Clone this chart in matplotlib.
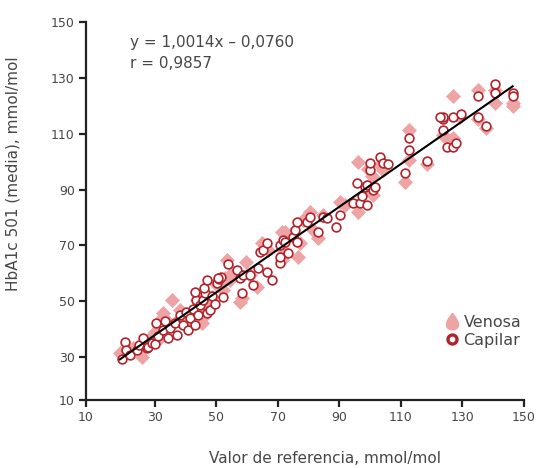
import matplotlib.pyplot as plt
import numpy as np
from matplotlib.lines import Line2D

# values (axis units as labelled)
cap_x = [19.3, 20.2, 20.6, 21.9, 24.1, 24.8, 26.1, 27.4, 27.7, 29.0, 30.0, 30.3,
         31.0, 32.6, 33.3, 34.2, 34.9, 36.5, 37.2, 38.1, 39.1, 40.1, 40.7, 41.4,
         42.4, 43.0, 43.3, 44.0, 44.6, 45.6, 46.3, 46.9, 47.9, 48.5, 49.5, 43.0,
         45.9, 46.8, 50.1, 50.8, 51.4, 52.2, 53.8, 56.6, 57.6, 58.2, 58.6, 60.9,
         61.9, 63.5, 64.1, 65.1, 66.4, 66.4, 68.0, 70.7, 70.7, 70.7, 71.6, 73.3,
         72.3, 74.9, 75.5, 76.2, 76.1, 79.3, 80.4, 83.0, 84.6, 85.8, 88.9, 90.2,
         94.4, 96.7, 98.8, 95.8, 98.3, 97.2, 98.8, 100.9, 101.6, 99.9, 99.9, 103.2,
         104.1, 105.8, 111.3, 112.6, 112.6, 118.4, 123.7, 125.0, 126.8, 127.9, 123.7,
         123.7, 126.8, 129.4, 135.1, 135.1, 137.8, 140.6, 140.6, 146.3, 146.3, 122.7,
         50.5]
cap_y = [29.3, 35.4, 32.5, 30.7, 32.5, 34.3, 36.8, 33.2, 33.6, 35.0, 34.7, 42.2,
         37.5, 39.7, 42.9, 36.8, 40.4, 42.2, 37.9, 45.0, 41.5, 46.1, 39.7, 44.0,
         47.2, 41.5, 50.4, 45.0, 48.6, 50.4, 52.9, 45.7, 46.8, 51.8, 49.0, 53.4,
         54.7, 57.6, 56.4, 57.9, 58.7, 51.5, 63.3, 61.1, 58.3, 52.9, 59.3, 59.3,
         55.8, 61.9, 67.6, 68.3, 70.8, 60.4, 57.6, 63.6, 65.9, 70.1, 71.9, 67.2,
         71.3, 73.1, 75.5, 78.4, 71.3, 78.4, 80.2, 74.8, 80.2, 79.7, 76.6, 80.8,
         85.2, 85.1, 84.4, 92.4, 91.0, 87.6, 91.6, 89.8, 91.0, 96.9, 99.5, 101.5,
         99.4, 99.1, 96.0, 104.1, 108.5, 100.1, 111.2, 105.3, 105.3, 106.5, 115.1,
         116.0, 116.0, 117.2, 116.0, 123.4, 112.7, 127.7, 124.4, 124.4, 123.4, 116.0,
         58.3]

ven_x = [18.6, 20.2, 22.9, 25.7, 30.0, 30.0, 32.7, 32.7, 35.4, 37.6, 41.4, 41.4,
         44.1, 45.7, 45.2, 45.7, 43.6, 48.4, 49.5, 52.2, 52.8, 53.3, 54.4, 57.6,
         58.2, 60.9, 63.1, 64.7, 71.2, 72.3, 71.2, 71.7, 76.6, 77.2, 78.2, 80.4,
         81.4, 83.1, 84.7, 90.2, 96.1, 96.1, 98.8, 99.4, 101.0, 103.2, 111.3, 112.7,
         112.7, 118.4, 123.8, 125.4, 127.0, 126.8, 129.2, 135.1, 135.1, 137.8, 140.6,
         140.6, 146.3, 146.3, 27.7, 31.6, 34.2, 38.1, 47.2, 55.4, 59.6, 66.7, 73.9,
         91.8, 100.6, 104.1]
ven_y = [31.3, 31.9, 33.1, 30.1, 37.3, 39.1, 44.4, 45.6, 50.4, 43.2, 42.1, 44.4,
         50.4, 44.4, 42.1, 48.6, 50.4, 51.6, 56.4, 54.0, 58.2, 64.7, 57.6, 49.8,
         51.0, 59.3, 55.2, 70.7, 74.8, 74.8, 64.7, 68.3, 65.9, 70.7, 79.0, 82.0,
         75.5, 72.5, 80.8, 85.6, 82.0, 99.9, 91.0, 97.5, 88.0, 98.7, 92.7, 100.5,
         111.2, 99.3, 109.5, 107.7, 108.3, 123.4, 116.0, 115.4, 125.8, 111.9, 125.6,
         121.0, 121.0, 119.8, 36.1, 36.8, 42.5, 46.8, 50.4, 60.4, 64.0, 68.3, 73.7,
         84.4, 94.8, 96.9]

x_ticks = [7.6, 30, 50, 70, 90, 110, 130, 150]
y_ticks = [14.6, 30, 50, 70, 90, 110, 130, 150]
tick_labels = ["10", "30", "50", "70", "90", "110", "130", "150"]

ven_color = "#eea3a5"
cap_color = "#b3232b"
text_color = "#474747"

# teardrop marker for the legend
t = np.linspace(0, 2 * np.pi, 80)
drop = np.column_stack([np.sin(t) * np.sin(t / 2) ** 1.3, np.cos(t)])

fig = plt.figure(figsize=(5.41, 4.68), dpi=100)
ax = fig.add_axes([0.159, 0.1453, 0.8096, 0.8077])

ax.plot(ven_x, ven_y, ls="none", marker="D", ms=6.8, mfc=ven_color, mec=ven_color,
        mew=0.5, zorder=2)
ax.plot(cap_x, cap_y, ls="none", marker="o", ms=6.3, mfc="white", mec=cap_color,
        mew=1.2, zorder=3)

all_x = np.concatenate([cap_x, ven_x])
all_y = np.concatenate([cap_y, ven_y])
k, b = np.polyfit(all_x, all_y, 1)
xl = np.array([all_x.min(), all_x.max()])
ax.plot(xl, k * xl + b, color="black", lw=1.5, zorder=4)

ax.set_xlim(x_ticks[0], 150)
ax.set_ylim(y_ticks[0], 150)
ax.set_xticks(x_ticks, tick_labels)
ax.set_yticks(y_ticks, tick_labels)
for s in ["top", "right"]:
    ax.spines[s].set_visible(False)
for s in ["left", "bottom"]:
    ax.spines[s].set_linewidth(1.6)
    ax.spines[s].set_color("#222222")
ax.tick_params(direction="out", length=5, width=1.6, color="#222222",
               labelsize=9, labelcolor=text_color, pad=3)

ax.set_xlabel("Valor de referencia, mmol/mol", fontsize=11, color=text_color)
ax.set_ylabel("HbA1c 501 (media), mmol/mol", fontsize=11, color=text_color)
ax.xaxis.set_label_coords(0.545, -0.135)
ax.yaxis.set_label_coords(-0.15, 0.6)

fig.text(130 / 541, 1 - 42 / 468, "y = 1,0014x \u2013 0,0760", fontsize=11,
         color=text_color, va="center", ha="left")
fig.text(130 / 541, 1 - 63 / 468, "r = 0,9857", fontsize=11,
         color=text_color, va="center", ha="left")

handles = [Line2D([], [], ls="none", marker=drop, ms=12, mfc=ven_color, mec=ven_color),
           Line2D([], [], ls="none", marker="o", ms=6.5, mfc="white", mec=cap_color, mew=2.4)]
ax.legend(handles, ["Venosa", "Capilar"], loc="center left",
          bbox_to_anchor=(0.78, 0.182), frameon=False, fontsize=11.5,
          labelcolor=text_color, handletextpad=0.15, labelspacing=0.2,
          handlelength=1.2)

fig.savefig("out.png", dpi=100)
